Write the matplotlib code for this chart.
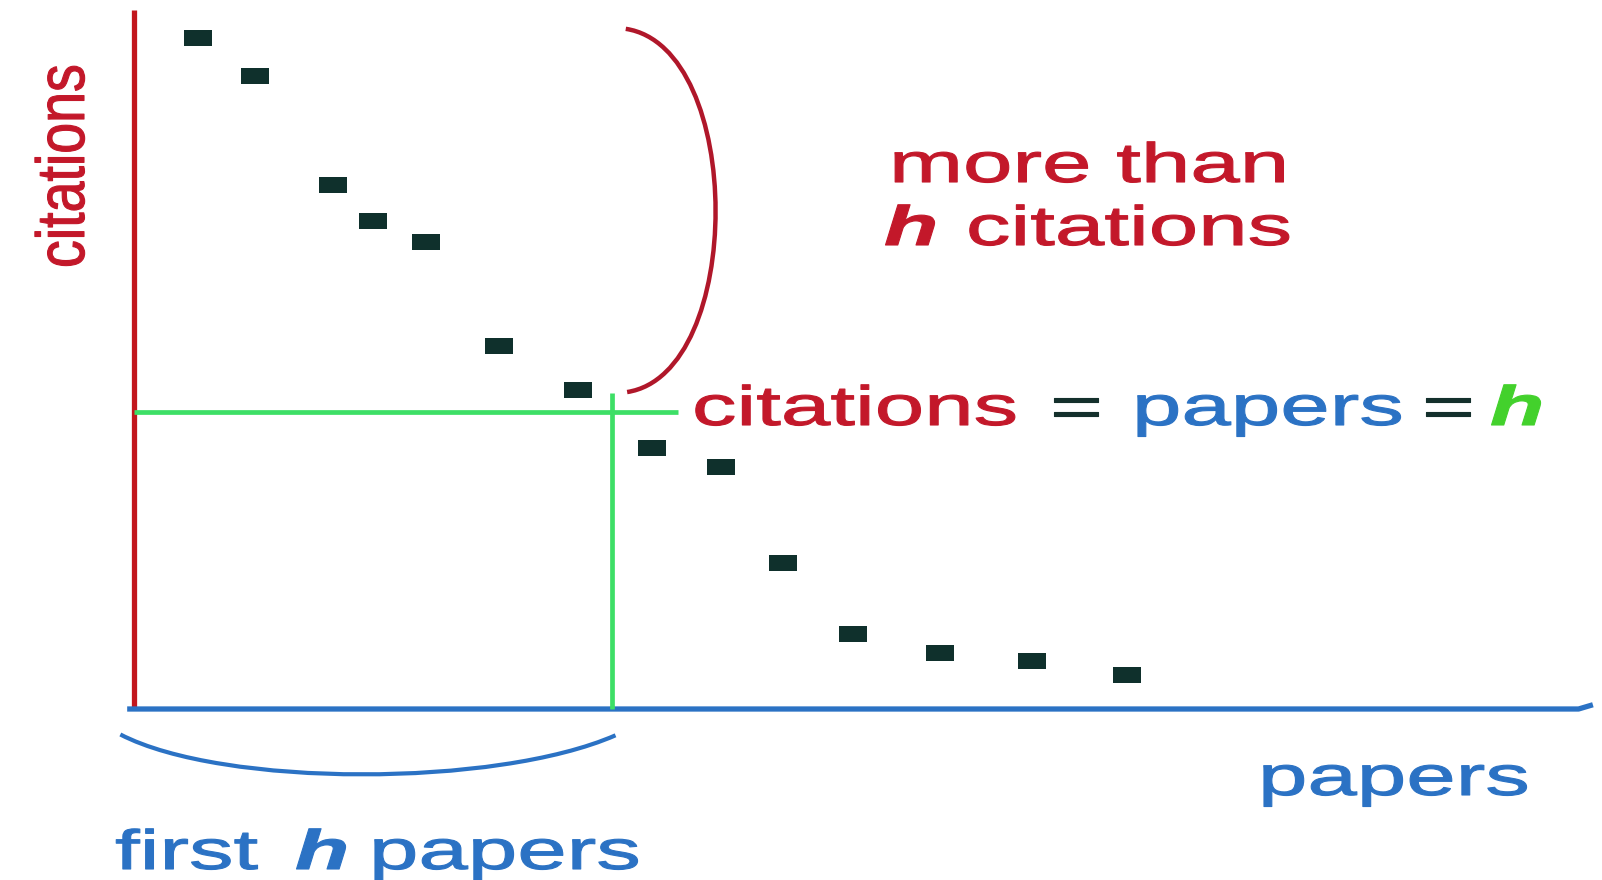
import matplotlib
matplotlib.use("Agg")
import matplotlib.pyplot as plt
from matplotlib.path import Path
from matplotlib.patches import PathPatch
from matplotlib.patheffects import AbstractPathEffect
from matplotlib.transforms import Affine2D

# ------------------------------------------------------------------
# schematic h-index data: papers ranked by number of citations
# ------------------------------------------------------------------
paper_pos = [0.94, 1.77, 2.91, 3.50, 4.28, 5.34, 6.50,
             7.58, 8.59, 9.50, 10.53, 11.80, 13.15, 14.54]
citations = [15.82, 14.93, 12.35, 11.50, 11.01, 8.56, 7.52,
             6.16, 5.70, 3.44, 1.76, 1.32, 1.13, 0.80]
h = 7

x_label = "papers"
y_label = "citations"
top_note = ["more than", "h", "citations"]
eq_parts = ["citations", "=", "papers", "=", "h"]
bottom_note = ["first", "h", "papers"]

RED = "#c3182a"
RED_AXIS = "#c2161d"
BLUE = "#2b72c4"
GREEN = "#3ddf66"
GREEN_H = "#43d12c"
DARK = "#14302c"
MARK = "#0f302c"

FS = 40
SX = 1.6           # the original picture is stretched horizontally


class Stretch(AbstractPathEffect):
    """Scale the glyph outlines in the text's own frame, and thicken them."""
    def __init__(self, sx=1.0, sy=1.0, lw=0.8):
        super().__init__()
        self.sx, self.sy, self.lw = sx, sy, lw

    def draw_path(self, renderer, gc, tpath, affine, rgbFace=None):
        gc0 = renderer.new_gc()
        gc0.copy_properties(gc)
        gc0.set_linewidth(self.lw)
        gc0.set_foreground(rgbFace)
        gc0.set_joinstyle("round")
        renderer.draw_path(gc0, tpath,
                           Affine2D().scale(self.sx, self.sy) + affine,
                           rgbFace)
        gc0.restore()


W, H = 1602, 880
fig = plt.figure(figsize=(W / 100, H / 100), dpi=100)
ax = fig.add_axes([0, 0, 1, 1])
ax.set_axis_off()

# origin of the diagram in pixels and pixels per unit
X0, Y0, PX, PY = 134, 709, 68.3, 42.43
ax.set_xlim(-X0 / PX, (W - X0) / PX)
ax.set_ylim(-(H - Y0) / PY, Y0 / PY)

# axes lines
ax.plot([0, 0], [0, 16.47], color=RED_AXIS, lw=3.8, solid_capstyle="butt")
ax.plot([-0.1, 21.15, 21.36], [0, 0, 0.1], color=BLUE, lw=3.8,
        solid_capstyle="butt", solid_joinstyle="round")

# h lines
ax.plot([0, h + 0.96], [h, h], color=GREEN, lw=3.4, solid_capstyle="butt")
ax.plot([h, h], [0, h + 0.45], color=GREEN, lw=3.4, solid_capstyle="butt")

# data points (wide rectangles)
rect = [(-14, -8), (14, -8), (14, 8), (-14, 8), (-14, -8)]
ax.plot(paper_pos, citations, linestyle="none", marker=rect, ms=20,
        mew=0, color=MARK, zorder=5)

# braces
red_brace = Path([(7.20, 16.03), (8.95, 15.6), (8.95, 7.9), (7.22, 7.47)],
                 [Path.MOVETO, Path.CURVE4, Path.CURVE4, Path.CURVE4])
ax.add_patch(PathPatch(red_brace, fc="none", ec="#b0172a", lw=3.2))
blue_brace = Path([(-0.20, -0.60), (1.3, -1.85), (5.3, -1.85), (7.05, -0.62)],
                  [Path.MOVETO, Path.CURVE4, Path.CURVE4, Path.CURVE4])
ax.add_patch(PathPatch(blue_brace, fc="none", ec=BLUE, lw=3.0))


def put(txt, x, y, color, rot=0, bold_italic=False):
    kw = dict(fontsize=FS, color=color, family="Liberation Sans",
              ha="left", va="baseline", rotation=rot,
              rotation_mode="anchor", transform=fig.transFigure)
    if bold_italic:
        kw.update(fontweight="bold", fontstyle="italic")
    eff = Stretch(1.0, 1.22) if rot else Stretch(SX, 1.0)
    fig.text(x / W, 1 - y / H, txt, path_effects=[eff], **kw)


# axis labels
put(y_label, 84, 268, RED, rot=90)
put(x_label, 1258, 795, BLUE)

# note at the brace
put(top_note[0], 889, 182, RED)
put(top_note[1], 884, 245, RED, bold_italic=True)
put(top_note[2], 966, 245, RED)

# citations = papers = h
put(eq_parts[0], 692, 425, RED)
put(eq_parts[1], 1050, 425, DARK)
put(eq_parts[2], 1132, 425, BLUE)
put(eq_parts[3], 1422, 425, DARK)
put(eq_parts[4], 1490, 425, GREEN_H, bold_italic=True)

# first h papers
put(bottom_note[0], 115, 869, BLUE)
put(bottom_note[1], 295, 869, BLUE, bold_italic=True)
put(bottom_note[2], 369, 869, BLUE)

fig.savefig("out.png", dpi=100)
